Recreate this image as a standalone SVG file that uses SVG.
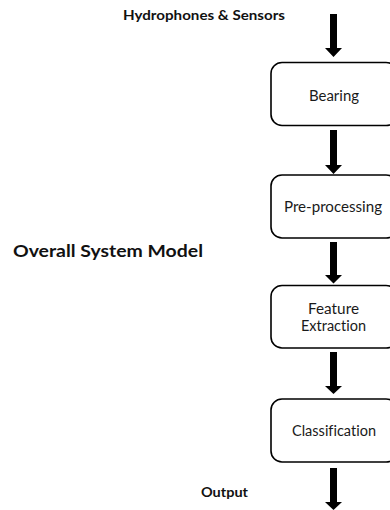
<svg xmlns="http://www.w3.org/2000/svg" width="390" height="510" viewBox="0 0 390 510">
  <defs>
    <style>
      .box { fill: #ffffff; stroke: #000000; stroke-width: 1.6; }
      .label { font-family: Lato, "Open Sans", "Liberation Sans", sans-serif; font-size: 14.5px; fill: #1a1a1a; text-anchor: middle; font-variant-ligatures: none; }
      .title { font-family: Lato, "Open Sans", "Liberation Sans", sans-serif; font-weight: bold; fill: #111111; }
      .arrow { fill: #000000; }
    </style>
  </defs>

  <rect width="390" height="510" fill="#ffffff"/>

  <text class="title" x="123" y="20" font-size="14" textLength="162" lengthAdjust="spacingAndGlyphs">Hydrophones &amp; Sensors</text>
  <text class="title" x="13" y="257" font-size="17" textLength="190" lengthAdjust="spacingAndGlyphs">Overall System Model</text>
  <text class="title" x="201" y="497" font-size="14" textLength="47" lengthAdjust="spacingAndGlyphs">Output</text>

  <!-- block arrows: shaft 7 wide, head 17 wide -->
  <g id="connectors" class="arrow">
    <path d="M330 14 H337 V48 H342 L333.5 57 L325 48 H330 Z"/>
    <path d="M330 130 H337 V165 H342 L333.5 174 L325 165 H330 Z"/>
    <path d="M330 242 H337 V275 H342 L333.5 283.5 L325 275 H330 Z"/>
    <path d="M330 352 H337 V386 H342 L333.5 394 L325 386 H330 Z"/>
    <path d="M330 468 H337 V502 H342 L333.5 510 L325 502 H330 Z"/>
  </g>

  <g id="bearing">
    <rect class="box" x="271" y="62.5" width="126" height="63" rx="11"/>
    <text class="label" x="334" y="101" textLength="50" lengthAdjust="spacingAndGlyphs">Bearing</text>
  </g>

  <g id="preprocessing">
    <rect class="box" x="271" y="175" width="126" height="63" rx="11"/>
    <text class="label" x="333" y="212" textLength="98" lengthAdjust="spacingAndGlyphs">Pre-processing</text>
  </g>

  <g id="feature-extraction">
    <rect class="box" x="271" y="285.5" width="126" height="62.5" rx="11"/>
    <text class="label" x="333.5" y="314" textLength="51" lengthAdjust="spacingAndGlyphs">Feature</text>
    <text class="label" x="333.5" y="331" textLength="65" lengthAdjust="spacingAndGlyphs">Extraction</text>
  </g>

  <g id="classification">
    <rect class="box" x="271" y="399" width="126" height="63" rx="11"/>
    <text class="label" x="334" y="436" textLength="84" lengthAdjust="spacingAndGlyphs">Classification</text>
  </g>
</svg>
